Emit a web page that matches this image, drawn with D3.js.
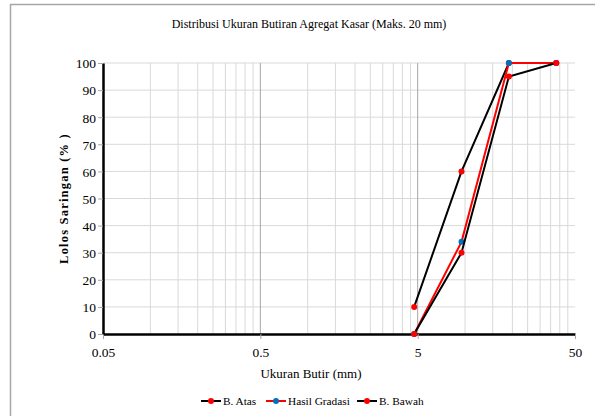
<!DOCTYPE html>
<html>
<head>
<meta charset="utf-8">
<script src="https://cdn.jsdelivr.net/npm/d3@7"></script>
<style>
  body { margin: 0; background: #fff; }
  svg { display: block; }
  text { font-family: "Liberation Serif", "Times New Roman", serif; }
</style>
</head>
<body>
<svg width="595" height="416"></svg>
<script>
// sieve sizes (mm) and percent passing
let sizes = [4.75, 9.5, 19, 38];
let atas = [10, 60, 100, 100];
let hasil = [0, 34, 100, 100];
let bawah = [0, 30, 95, 100];
let xTicks = [0.05, 0.5, 5, 50];
let yTicks = [0, 10, 20, 30, 40, 50, 60, 70, 80, 90, 100];

let series = [
    {name: "B. Atas", values: atas, line: "#000", marker: "#ff0000"},
    {name: "Hasil Gradasi", values: hasil, line: "#ff0000", marker: "#0070c0"},
    {name: "B. Bawah", values: bawah, line: "#000", marker: "#ff0000"}
];

const FONT = "Liberation Serif";
let svg = d3.select("svg");

// chart border
svg.append("rect")
    .attr("x", 10.5).attr("y", 4.5)
    .attr("width", 600).attr("height", 430)
    .attr("fill", "none").attr("stroke", "#a6a6a6").attr("stroke-width", 1.5);

let x = d3.scaleLog().domain([0.05, 50]).range([103, 575]);
let y = d3.scaleLinear().domain([0, 100]).range([334, 63]);

// minor vertical gridlines
let minor = [];
for (let dec of [0.05, 0.5, 5]) {
    for (let k = 2; k <= 9; k++) minor.push(dec * k);
}
svg.append("g").selectAll("line")
    .data(minor)
    .enter().append("line")
    .attr("x1", d => x(d)).attr("x2", d => x(d))
    .attr("y1", y(0)).attr("y2", y(100))
    .attr("stroke", "#d9d9d9").attr("stroke-width", 1);

// horizontal gridlines
svg.append("g").selectAll("line")
    .data(yTicks.slice(1))
    .enter().append("line")
    .attr("x1", x(0.05)).attr("x2", x(50))
    .attr("y1", d => y(d)).attr("y2", d => y(d))
    .attr("stroke", "#d9d9d9").attr("stroke-width", 1);

// major vertical gridlines
svg.append("g").selectAll("line")
    .data([0.5, 5])
    .enter().append("line")
    .attr("x1", d => x(d)).attr("x2", d => x(d))
    .attr("y1", y(0)).attr("y2", y(100))
    .attr("stroke", "#a6a6a6").attr("stroke-width", 1);

// axes
let xAxis = svg.append("g")
    .attr("transform", `translate(0,${y(0)})`)
    .call(d3.axisBottom(x).tickValues(xTicks).tickFormat(d => d).tickSize(5).tickSizeOuter(0));
let yAxis = svg.append("g")
    .attr("transform", `translate(${x(0.05)},0)`)
    .call(d3.axisLeft(y).tickValues(yTicks).tickSize(5).tickSizeOuter(0));

xAxis.attr("font-family", FONT);
yAxis.attr("font-family", FONT);
xAxis.select(".domain").attr("stroke", "#000").attr("stroke-width", 2.5);
yAxis.select(".domain").attr("stroke", "#000").attr("stroke-width", 2.5);
xAxis.selectAll(".tick line").attr("stroke", "#a6a6a6");
yAxis.selectAll(".tick line").attr("stroke", "#a6a6a6");
xAxis.selectAll("text")
    .attr("font-family", FONT).attr("font-size", 13.5).attr("fill", "#000")
    .attr("y", 23).attr("dy", null);
yAxis.selectAll("text")
    .attr("font-family", FONT).attr("font-size", 13.5).attr("fill", "#000")
    .attr("x", -7).attr("dy", "0.36em");

// lines and markers
let line = d3.line()
    .x((d, i) => x(sizes[i]))
    .y(d => y(d));

for (let s of series) {
    svg.append("path")
        .datum(s.values)
        .attr("d", line)
        .attr("fill", "none")
        .attr("stroke", s.line)
        .attr("stroke-width", 2);
    svg.append("g").selectAll("circle")
        .data(s.values)
        .enter().append("circle")
        .attr("cx", (d, i) => x(sizes[i]))
        .attr("cy", d => y(d))
        .attr("r", 3)
        .attr("fill", s.marker);
}

// titles
svg.append("text")
    .attr("x", 309).attr("y", 28)
    .attr("text-anchor", "middle")
    .attr("font-family", FONT)
    .attr("font-size", 12)
    .text("Distribusi Ukuran Butiran Agregat Kasar (Maks. 20 mm)");

svg.append("text")
    .attr("x", 311).attr("y", 378)
    .attr("text-anchor", "middle")
    .attr("font-family", FONT)
    .attr("font-size", 13)
    .text("Ukuran Butir (mm)");

svg.append("text")
    .attr("transform", `translate(68,${(y(0) + y(100)) / 2}) rotate(-90)`)
    .attr("text-anchor", "middle")
    .attr("font-family", FONT)
    .attr("font-size", 12.5)
    .attr("letter-spacing", 1.2)
    .attr("font-weight", "bold")
    .text("Lolos Saringan (% )");

// legend
let legendX = [201, 266, 357];
let legend = svg.append("g").selectAll("g")
    .data(series)
    .enter().append("g")
    .attr("transform", (d, i) => `translate(${legendX[i]},401)`);
legend.append("line")
    .attr("x1", 0).attr("x2", 20)
    .attr("stroke", d => d.line).attr("stroke-width", 2);
legend.append("circle")
    .attr("cx", 10).attr("r", 3)
    .attr("fill", d => d.marker);
legend.append("text")
    .attr("x", 22).attr("dy", "0.35em")
    .attr("font-family", FONT)
    .attr("font-size", 11.3)
    .text(d => d.name);
</script>
</body>
</html>
